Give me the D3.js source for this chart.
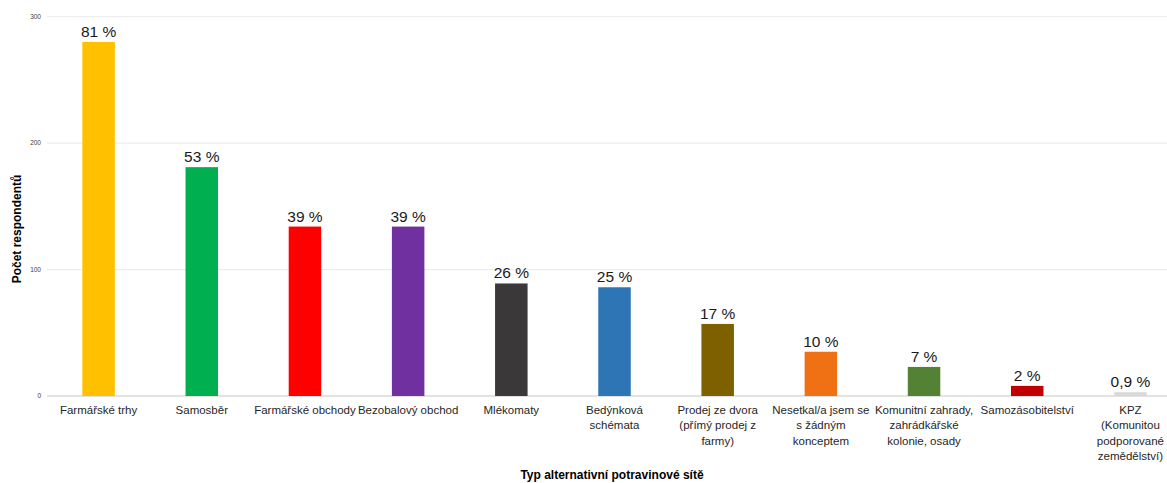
<!DOCTYPE html>
<html><head><meta charset="utf-8">
<script src="https://cdn.jsdelivr.net/npm/d3@7"></script>
<style>
html,body{margin:0;padding:0;background:#fff;overflow:hidden}
svg{display:block;font-family:"Liberation Sans",Arial,sans-serif}
</style></head>
<body><svg id="c" width="1167" height="483"></svg>
<script>
const categories = ["Farmářské trhy","Samosběr","Farmářské obchody","Bezobalový obchod","Mlékomaty","Bedýnková schémata","Prodej ze dvora (přímý prodej z farmy)","Nesetkal/a jsem se s žádným konceptem","Komunitní zahrady, zahrádkářské kolonie, osady","Samozásobitelství","KPZ (Komunitou podporované zemědělství)"];
const categoryLines = [["Farmářské trhy"],["Samosběr"],["Farmářské obchody"],["Bezobalový obchod"],["Mlékomaty"],["Bedýnková","schémata"],["Prodej ze dvora","(přímý prodej z","farmy)"],["Nesetkal/a jsem se","s žádným","konceptem"],["Komunitní zahrady,","zahrádkářské","kolonie, osady"],["Samozásobitelství"],["KPZ","(Komunitou","podporované","zemědělství)"]];
const values = [280,181,134,134,89,86,57,35,23,8,3];
const percentLabels = ["81 %","53 %","39 %","39 %","26 %","25 %","17 %","10 %","7 %","2 %","0,9 %"];
const colors = ["#FFC000","#00B050","#FF0000","#7030A0","#3A3838","#2E75B6","#7F6000","#F07014","#548235","#C00000","#D9D9D9"];
const yTicks = [0,100,200,300];
const yTitle = "Počet respondentů";
const xTitle = "Typ alternativní potravinové sítě";

const svg = d3.select("#c");
const x = d3.scaleBand().domain(categories).range([47,1182]).paddingInner(0.685).paddingOuter(0.3425);
const y = d3.scaleLinear().domain([0,300]).range([396,16.7]);

// gridlines
svg.append("g").selectAll("line").data(yTicks).join("line")
  .attr("x1",47).attr("x2",1182)
  .attr("y1",d=>y(d)).attr("y2",d=>y(d))
  .attr("stroke",d=>d===0?"#D9D9D9":"#EDEDED").attr("stroke-width",1.3);

// y tick labels
svg.append("g").selectAll("text").data(yTicks).join("text")
  .attr("x",41).attr("y",d=>y(d)).attr("dy","0.35em")
  .attr("text-anchor","end").attr("font-size",6.5).attr("fill","#404040")
  .text(d=>d);

// bars
svg.append("g").selectAll("rect").data(values).join("rect")
  .attr("x",(d,i)=>x(categories[i])).attr("width",x.bandwidth())
  .attr("y",d=>y(d)).attr("height",d=>y(0)-y(d))
  .attr("fill",(d,i)=>colors[i]);

// value labels
svg.append("g").selectAll("text").data(values).join("text")
  .attr("x",(d,i)=>x(categories[i])+x.bandwidth()/2)
  .attr("y",d=>y(d)-5)
  .attr("text-anchor","middle").attr("font-size",15.5).attr("fill","#1a1a1a")
  .text((d,i)=>percentLabels[i]);

// category labels
const cg = svg.append("g").selectAll("text").data(categories).join("text")
  .attr("text-anchor","middle").attr("font-size",11.5).attr("fill","#262626")
  .attr("transform",d=>`translate(${x(d)+x.bandwidth()/2},414)`);
cg.each(function(d,i){
  d3.select(this).selectAll("tspan").data(categoryLines[i]).join("tspan")
    .attr("x",0).attr("dy",(t,j)=>j===0?0:15.3).text(t=>t);
});

// axis titles
svg.append("text").attr("transform","translate(21,229) rotate(-90)")
  .attr("text-anchor","middle").attr("font-size",12).attr("font-weight","bold").attr("fill","#000")
  .text(yTitle);
svg.append("text").attr("x",612).attr("y",479)
  .attr("text-anchor","middle").attr("font-size",12).attr("font-weight","bold").attr("fill","#000")
  .text(xTitle);
</script></body></html>
